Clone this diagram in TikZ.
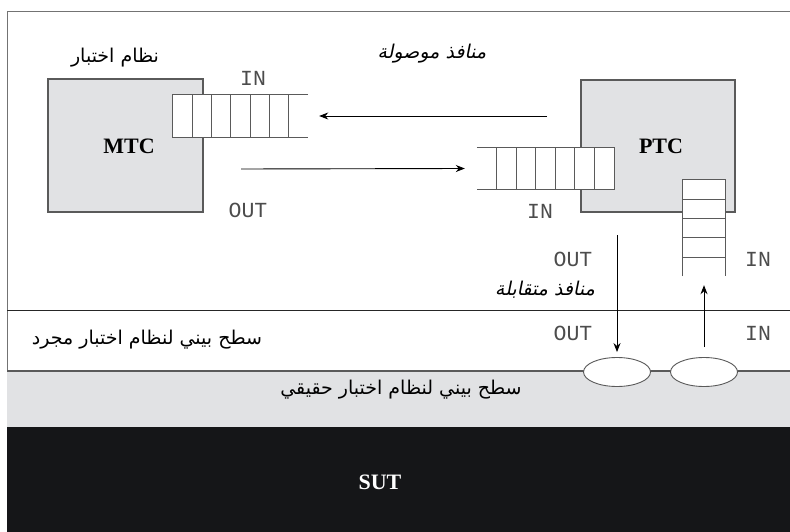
\documentclass[tikz,border=0pt]{standalone}
\usepackage{fontspec}
\usetikzlibrary{arrows.meta,shapes.geometric}
\setmainfont{Liberation Serif}
\newfontfamily\monof{Liberation Mono}
\newfontfamily\arabicfont[Script=Arabic]{DejaVu Sans}
\newfontfamily\arabicslant[Script=Arabic,FakeSlant=0.2]{DejaVu Sans}
\TeXXeTstate=1
\definecolor{boxgrey}{HTML}{E1E2E4}
\definecolor{edgegrey}{HTML}{5A5A5A}
\definecolor{sutblack}{HTML}{151618}
\tikzset{
  comp/.style={draw=edgegrey, line width=1.1pt, fill=boxgrey, inner sep=0pt},
  qcell/.style={draw=none, fill=white, inner sep=0pt},
  qline/.style={draw=edgegrey, line width=0.9pt},
  port/.style={font=\monof\fontsize{21.5}{21.5}\selectfont, text=black!70, inner sep=0pt},
  artext/.style={font=\arabicfont\fontsize{19}{19}\selectfont, inner sep=0pt},
  arslant/.style={font=\arabicslant\fontsize{19}{19}\selectfont, inner sep=0pt},
  bold/.style={font=\bfseries\fontsize{22}{22}\selectfont, inner sep=0pt},
  arr/.style={line width=0.9pt, -{Stealth[length=9pt,width=7pt]}},
  pad/.style={ellipse, draw=edgegrey, line width=0.9pt, fill=white, minimum width=67pt, minimum height=29pt, inner sep=0pt}
}
\begin{document}
\begin{tikzpicture}[x=1pt,y=-1pt]
\useasboundingbox (0,0) rectangle (790,532);
\fill[white] (0,0) rectangle (790,532);

% outer frame
\draw[draw=black!55, line width=1pt] (790,12) -- (7,12) -- (7,532);

% interface bands
\fill[boxgrey] (7,371) rectangle (790,427);
\fill[sutblack] (7,427) rectangle (790,532);
\draw[black!85, line width=0.8pt] (7,310) -- (790,310);
\draw[edgegrey, line width=1.1pt] (7,371) -- (790,371);

% test components
\node[comp, minimum width=155pt, minimum height=133pt] (mtc) at (125.5,145.5) {};
\node[comp, minimum width=154pt, minimum height=132pt] (ptc) at (658,146) {};
\node[bold] (mtclabel) at (129,146) {MTC};
\node[bold] (ptclabel) at (661,146) {PTC};

% MTC input queue (open towards the right)
\node[qcell, minimum width=135pt, minimum height=42pt] (mq) at (240.5,116) {};
\draw[qline] (mq.north east) -- (mq.north west) -- (mq.south west) -- (mq.south east);
\foreach \k in {1,...,6}
  \draw[qline] ([xshift=\k*19.33pt]mq.north west) -- ([xshift=\k*19.33pt]mq.south west);

% PTC input queue (open towards the left)
\node[qcell, minimum width=137pt, minimum height=41pt] (pq) at (545.5,168.5) {};
\draw[qline] (pq.north west) -- (pq.north east) -- (pq.south east) -- (pq.south west);
\foreach \k in {0,...,5}
  \draw[qline] ([xshift=20pt+\k*19.5pt]pq.north west) -- ([xshift=20pt+\k*19.5pt]pq.south west);

% PTC input queue towards the system interface (open at the bottom)
\node[qcell, minimum width=42pt, minimum height=96pt] (vq) at (704,228) {};
\draw[qline] (vq.south west) -- (vq.north west) -- (vq.north east) -- (vq.south east);
\foreach \k in {1,...,4}
  \draw[qline] ([yshift=-\k*19.3pt]vq.north west) -- ([yshift=-\k*19.3pt]vq.north east);

% interface points
\node[pad] (pout) at (617,372) {};
\node[pad] (pin) at (704,372) {};

% connectors
\coordinate (c1) at (547,116);
\coordinate (c2) at (241,169);
\coordinate (c3) at (617,235);
\draw[arr] (c1) -- ([xshift=11pt]mq.east);
\draw[arr] (c2) -- ([xshift=-12pt]pq.west);
\draw[arr] (c3) -- ([yshift=5pt]pout.north);
\draw[arr] ([yshift=10pt]pin.north) -- ([yshift=-9pt]vq.south);

% port labels
\node[port] (in1) at (253,78) {IN};
\node[port] (out1) at (248,210) {OUT};
\node[port] (in2) at (540,211) {IN};
\node[port] (out2) at (573,259) {OUT};
\node[port] (in3) at (758,259) {IN};
\node[port] (out3) at (573,333) {OUT};
\node[port] (in4) at (758,333) {IN};

% Arabic captions
\node[artext] (tsys) at (115,58) {\beginR نظام اختبار\endR};
\node[arslant] (conn) at (432,54) {\beginR منافذ موصولة\endR};
\node[arslant] (mapped) at (545,290) {\beginR منافذ متقابلة\endR};
\node[artext] (absif) at (147,340) {\beginR سطح بيني لنظام اختبار مجرد\endR};
\node[artext] (realif) at (401,390) {\beginR سطح بيني لنظام اختبار حقيقي\endR};

% system under test
\node[bold, text=white] (sut) at (380,482) {SUT};
\end{tikzpicture}
\end{document}
